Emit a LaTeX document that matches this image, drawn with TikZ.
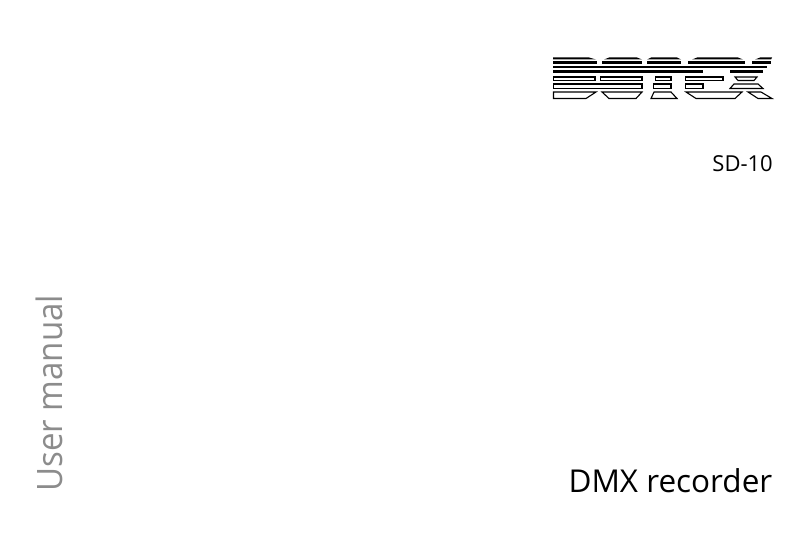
\documentclass[tikz,border=0pt]{standalone}
\usepackage{fontspec}
\setmainfont{Open Sans}
\newfontfamily\manualfont[FakeStretch=0.945]{Open Sans}
\usetikzlibrary{positioning}
\definecolor{manualgray}{gray}{0.55}
\tikzset{
  logo bar/.style={fill=black,draw=none},
  logo box/.style={draw=black,line width=1.1pt,fill=white,line join=miter},
  cover text/.style={inner sep=0pt,font=\fontsize{31}{36}\selectfont}
}

\begin{document}
\begin{tikzpicture}[x=1pt,y=-1pt]
\useasboundingbox (0,0) rectangle (808,551);

% logo, solid bars
\fill[logo bar] (553,59.5) -- (596,59.5) -- (589,57.5) -- (553,57.5) -- cycle;
\fill[logo bar] (604,59.5) -- (609,57.5) -- (637,57.5) -- (642,59.5) -- cycle;
\fill[logo bar] (647,59.5) -- (651,57.5) -- (677,57.5) -- (681,59.5) -- cycle;
\fill[logo bar] (692,59.5) -- (697,57.5) -- (738,57.5) -- (743,59.5) -- cycle;
\fill[logo bar] (755,59.5) -- (760,57.5) -- (772,57.5) -- (771,59.5) -- cycle;
\fill[logo bar] (553,61.4) rectangle (597,63.6);
\fill[logo bar] (602,61.4) rectangle (642,63.6);
\fill[logo bar] (647,61.4) rectangle (681,63.6);
\fill[logo bar] (688,61.4) rectangle (745,63.6);
\fill[logo bar] (752,61.4) rectangle (771,63.6);
\fill[logo bar] (553,65.7) rectangle (767,67.9);
\fill[logo bar] (553,70) rectangle (703,73.4);
\fill[logo bar] (730,70) rectangle (763,73.4);

% logo, outlined rows
\draw[logo box] (553.5,77) rectangle (595,80.5);
\draw[logo box] (600.5,77) rectangle (642,80.5);
\draw[logo box] (655.5,77) rectangle (671,80.5);
\draw[logo box] (685.5,77) rectangle (723,80.5);
\draw[logo box] (735,77) -- (757,77) -- (754,80.5) -- (738,80.5) -- cycle;
\draw[logo box] (553.5,84) rectangle (642,88.5);
\draw[logo box] (653.5,84) rectangle (671,88.5);
\draw[logo box] (685.5,84) rectangle (703,88.5);
\draw[logo box] (730,88.5) -- (734,84) -- (758,84) -- (763,88.5) -- cycle;
\draw[logo box] (553.5,92) -- (596,92) -- (586,98.5) -- (553.5,98.5) -- cycle;
\draw[logo box] (602,92) -- (642,92) -- (636,98.5) -- (609,98.5) -- cycle;
\draw[logo box] (654,92) -- (671,92) -- (677,98.5) -- (651,98.5) -- cycle;
\draw[logo box] (686,92) -- (742,92) -- (735,98.5) -- (696,98.5) -- cycle;
\draw[logo box] (748,92) -- (761,92) -- (772,98.5) -- (758,98.5) -- cycle;

\node[cover text,anchor=base east,font=\fontsize{22}{25}\selectfont] (model) at (773,171) {SD-10};
\node[cover text,anchor=base east,font=\fontsize{31.5}{36}\selectfont] (product) at (772.5,492.5) {DMX recorder};
\node[cover text,anchor=base west,rotate=90,text=manualgray,font=\manualfont\fontsize{35}{40}\selectfont] (manual) at (62.5,492) {User manual};
\end{tikzpicture}
\end{document}
